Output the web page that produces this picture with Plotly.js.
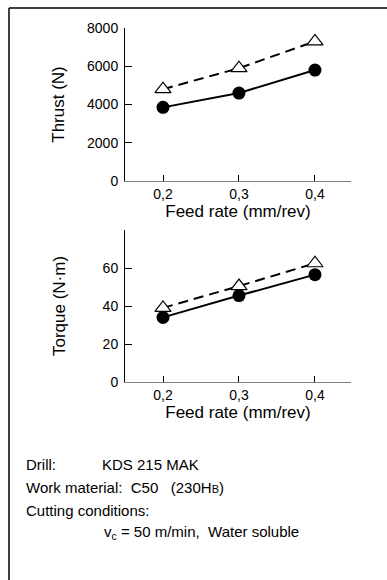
<!DOCTYPE html>
<html>
<head>
<meta charset="utf-8">
<script src="https://cdn.plot.ly/plotly-3.0.1.min.js"></script>
<style>
html,body{margin:0;padding:0;background:#fff;}
#chart{width:387px;height:580px;}
</style>
</head>
<body>
<div id="chart"></div>
<script>
// Data
const feedRate = [0.2, 0.3, 0.4];
const feedTickVals = [0.2, 0.3, 0.4];
const feedTickText = ['0,2', '0,3', '0,4'];

const thrustCircle = [3850, 4600, 5800];
const thrustTriangle = [4800, 5900, 7300];
const thrustTickVals = [0, 2000, 4000, 6000, 8000];
const thrustTickText = ['0', '2000', '4000', '6000', '8000'];

const torqueCircle = [34, 45.5, 56.5];
const torqueTriangle = [39, 50.5, 62.5];
const torqueTickVals = [0, 20, 40, 60, 80];
const torqueTickText = ['0', '20', '40', '60', ' '];

const FONT = 'Liberation Sans, Arial, Helvetica, sans-serif';
const NB = '\u00a0';

const W = 387, H = 580, L = 125, R = 36;
const PW = W - L - R;
const px = x => (x - L) / PW;       // pixel x -> paper x
const py = y => 1 - y / H;          // pixel y -> paper y (t=b=0)

function circleTrace(y, xa, ya) {
  return {
    x: feedRate, y: y, xaxis: xa, yaxis: ya, type: 'scatter', mode: 'lines+markers',
    line: {color: '#000', width: 2},
    marker: {symbol: 'circle', size: 13, color: '#000'},
    hoverinfo: 'skip'
  };
}
function triTrace(y, xa, ya) {
  return {
    x: feedRate, y: y, xaxis: xa, yaxis: ya, type: 'scatter', mode: 'lines+markers',
    line: {color: '#000', width: 2, dash: '10px,6px'},
    marker: {symbol: 'triangle-up', size: 14, color: '#fff', line: {color: '#000', width: 1.2}},
    hoverinfo: 'skip'
  };
}

const data = [
  triTrace(thrustTriangle, 'x', 'y'),
  circleTrace(thrustCircle, 'x', 'y'),
  triTrace(torqueTriangle, 'x2', 'y2'),
  circleTrace(torqueCircle, 'x2', 'y2')
];

function xAxis(anchor) {
  return {
    anchor: anchor, domain: [0, 1], range: [0.15, 0.4474],
    tickvals: feedTickVals, ticktext: feedTickText,
    ticks: 'inside', ticklen: 6, tickwidth: 1, tickcolor: '#000',
    showline: true, linecolor: '#808080', linewidth: 1,
    showgrid: false, zeroline: false, fixedrange: true,
    tickfont: {family: FONT, size: 14, color: '#000'},
    title: {text: 'Feed rate (mm/rev)', font: {family: FONT, size: 17, color: '#000'}, standoff: 2}
  };
}
function yAxis(anchor, domain, range, vals, text, title, standoff) {
  return {
    anchor: anchor, domain: domain, range: range,
    tickvals: vals, ticktext: text,
    ticks: 'inside', ticklen: 7, tickwidth: 1, tickcolor: '#000',
    showline: true, linecolor: '#000', linewidth: 1,
    showgrid: false, zeroline: false, fixedrange: true,
    ticklabelstandoff: 3,
    tickfont: {family: FONT, size: 14, color: '#000'},
    title: {text: title, font: {family: FONT, size: 17, color: '#000'}, standoff: standoff}
  };
}

const annFont = {family: FONT, size: 15, color: '#000'};
function note(text, xPix, yPix) {
  return {text: text, xref: 'paper', yref: 'paper', x: px(xPix), y: py(yPix),
          xanchor: 'left', yanchor: 'middle', showarrow: false, font: annFont};
}

const layout = {
  width: W, height: H,
  margin: {l: L, r: R, t: 0, b: 0},
  paper_bgcolor: '#fff', plot_bgcolor: '#fff',
  showlegend: false,
  font: {family: FONT, color: '#000'},
  xaxis: xAxis('y'),
  yaxis: yAxis('x', [py(181), py(28)], [0, 8000], thrustTickVals, thrustTickText, 'Thrust (N)', 18),
  xaxis2: xAxis('y2'),
  yaxis2: yAxis('x2', [py(382), py(230)], [0, 80], torqueTickVals, torqueTickText, 'Torque (N·m)', 32),
  shapes: [
    {type: 'line', xref: 'paper', yref: 'paper', x0: px(9), x1: px(9), y0: py(8), y1: py(580),
     line: {color: '#000', width: 1.5}},
    {type: 'line', xref: 'paper', yref: 'paper', x0: px(9), x1: px(387), y0: py(8), y1: py(8),
     line: {color: '#000', width: 1.5}}
  ],
  annotations: [
    note('Drill:', 24, 464),
    note('KDS 215 MAK', 100, 464),
    note('Work material:' + NB + NB + 'C50' + NB + NB + NB + '(230H<span style="font-size:11px">B</span>)', 24, 487),
    note('Cutting conditions:', 24, 510),
    note('v<sub>c</sub> = 50 m/min,' + NB + NB + 'Water soluble', 102, 532)
  ]
};

Plotly.newPlot('chart', data, layout, {displayModeBar: false, staticPlot: true});
</script>
</body>
</html>
